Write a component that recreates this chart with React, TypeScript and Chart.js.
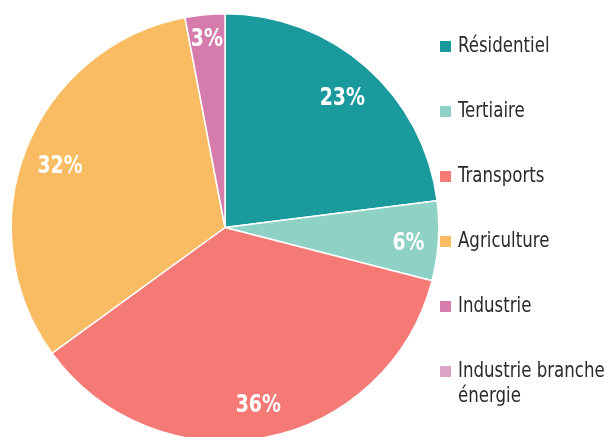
import React, { useEffect, useRef } from "react";
import { Chart, registerables } from "chart.js";

Chart.register(...registerables);

const categories = [
  "Résidentiel",
  "Tertiaire",
  "Transports",
  "Agriculture",
  "Industrie",
  "Industrie branche énergie",
];
const legendLines = [
  ["Résidentiel"],
  ["Tertiaire"],
  ["Transports"],
  ["Agriculture"],
  ["Industrie"],
  ["Industrie branche", "énergie"],
];
const values = [23, 6, 36, 32, 3, 0];
const colors = ["#1a9a9c", "#8fd1c5", "#f57a76", "#f9bc62", "#d67cad", "#dca4c6"];

const FONT = '"Liberation Sans Narrow", "DejaVu Sans Condensed", "Roboto Condensed", "Arial Narrow", sans-serif';

function squeezedText(ctx: any, text: string, x: number, y: number, sx: number, align: string) {
  ctx.save();
  ctx.translate(x, y);
  ctx.scale(sx, 1);
  ctx.textAlign = align;
  ctx.fillText(text, 0, 0);
  ctx.restore();
}

const overlayPlugin = {
  id: "overlay",
  afterDatasetsDraw(chart: any) {
    const ctx = chart.ctx;
    const meta = chart.getDatasetMeta(0);
    const ds = chart.data.datasets[0];
    ctx.save();
    // percentage labels
    ctx.fillStyle = "#ffffff";
    ctx.font = `bold 25px ${FONT}`;
    ctx.textBaseline = "middle";
    meta.data.forEach((arc: any, i: number) => {
      const v = ds.data[i];
      if (!v) return;
      const { x, y, startAngle, endAngle, outerRadius } = arc.getProps(
        ["x", "y", "startAngle", "endAngle", "outerRadius"],
        true
      );
      const mid = (startAngle + endAngle) / 2;
      const r = outerRadius * (v < 5 ? 0.9 : v < 10 ? 0.86 : 0.83);
      squeezedText(ctx, `${v}%`, x + Math.cos(mid) * r, y + Math.sin(mid) * r + 4, 0.84, "center");
    });
    // legend
    ctx.font = `21px ${FONT}`;
    ctx.textBaseline = "middle";
    const x0 = 440;
    const y0 = 47;
    const step = 65;
    legendLines.forEach((lines, i) => {
      const cy = y0 + i * step;
      ctx.fillStyle = colors[i];
      ctx.fillRect(x0, cy - 6, 11, 11);
      ctx.fillStyle = "#2a2a2a";
      lines.forEach((t, j) => {
        squeezedText(ctx, t, x0 + 18, cy + j * 25, 0.88, "left");
      });
    });
    ctx.restore();
  },
};

export default function App() {
  const ref = useRef<HTMLCanvasElement | null>(null);
  useEffect(() => {
    if (!ref.current) return;
    const chart = new Chart(ref.current, {
      type: "pie",
      data: {
        labels: categories,
        datasets: [
          {
            data: values,
            backgroundColor: colors,
            borderColor: "#ffffff",
            borderWidth: 1.5,
          },
        ],
      },
      options: {
        responsive: false,
        animation: false,
        layout: { padding: { left: 10, right: 168, top: 13, bottom: 3 } },
        plugins: {
          legend: { display: false },
          tooltip: { enabled: false },
        },
      },
      plugins: [overlayPlugin],
    });
    return () => chart.destroy();
  }, []);
  return (
    <div
      style={{
        position: "fixed",
        left: 0,
        top: 0,
        width: 608,
        height: 437,
        overflow: "hidden",
        background: "#ffffff",
      }}
    >
      <canvas ref={ref} width={608} height={445} style={{ display: "block" }} />
    </div>
  );
}
